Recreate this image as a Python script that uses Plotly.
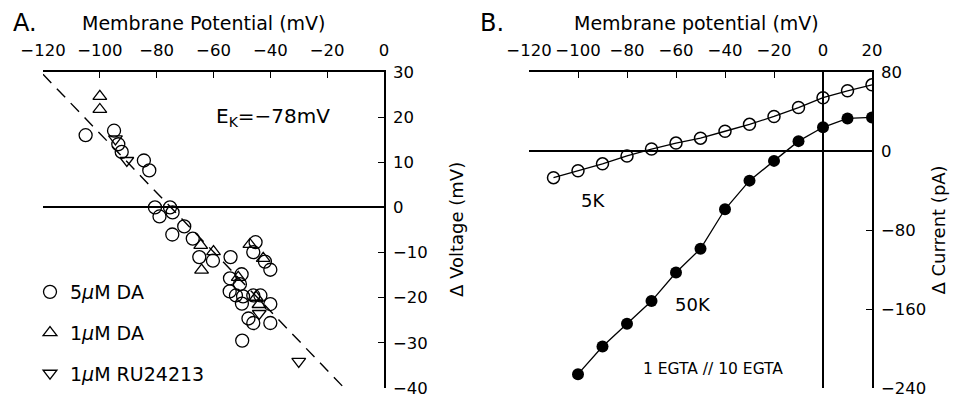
import plotly.graph_objects as go

# ---------------- Panel A data ----------------
da5_x = [-105, -95, -93.5, -92.3, -84.5, -82.6,
         -80.6, -79, -75.3, -74.4, -70.3, -74.5, -67.3, -65, -60.2, -54,
         -45.2, -46, -41.9, -40,
         -54.2, -50.1, -50.7, -54.3, -52.1, -49.6, -50, -46, -43.5, -40,
         -47.7, -46, -40, -49.9]
da5_y = [16, 17, 14, 12.3, 10.4, 8.2,
         0, -2, 0, -1.1, -4.2, -6.0, -6.9, -11, -11.8, -11,
         -7.7, -9.9, -12, -13.8,
         -15.7, -14.8, -17, -18.6, -19.5, -19.7, -21.3, -19.5, -19.5, -21.4,
         -24.6, -25.6, -25.6, -29.5]
da1_x = [-100, -100, -64.5, -64.2, -60, -47.2, -42.5, -51.3, -45, -44]
da1_y = [24.6, 21.7, -8.4, -13.9, -9.8, -8.2, -11.3, -15.5, -19.9, -21.5]
ru_x = [-94.5, -90.5, -43.9, -30]
ru_y = [15.2, 10.4, -23.5, -34.1]
fit_x = [-120, -14]
fit_y = [29.5, -40]
a_xticks = [-120, -100, -80, -60, -40, -20, 0]
a_yticks = [-40, -30, -20, -10, 0, 10, 20, 30]

# ---------------- Panel B data ----------------
k5_v = [-110, -100, -90, -80, -70, -60, -50, -40, -30, -20, -10, 0, 10, 20]
k5_i = [-27, -20, -13, -5, 2, 8, 13, 20, 27, 35, 44, 54, 61, 67]
k50_v = [-100, -90, -80, -70, -60, -50, -40, -30, -20, -10, 0, 10, 20]
k50_i = [-226, -198, -175, -152, -123, -99, -59, -30, -10, 10, 24, 33, 34]
b_xticks = [-120, -100, -80, -60, -40, -20, 0, 20]
b_yticks = [-240, -160, -80, 0, 80]

FONT = "DejaVu Sans"
OFF = 8                      # page body margin
W, H = 966 - OFF, 398 - OFF  # figure size so that it fits the window exactly


def px(v):
    """window x pixel -> paper fraction"""
    return (v - OFF) / W


def py(v):
    """window y pixel -> paper fraction"""
    return 1 - (v - OFF) / H


fig = go.Figure()
fig.add_trace(go.Scatter(x=fit_x, y=fit_y, mode="lines", xaxis="x", yaxis="y",
                         line=dict(color="black", width=1.4, dash="12px,8px"),
                         showlegend=False, hoverinfo="skip"))
fig.add_trace(go.Scatter(x=da5_x, y=da5_y, mode="markers", xaxis="x", yaxis="y",
                         name="5<i>μ</i>M DA", legendgroup="a",
                         marker=dict(symbol="circle-open", size=13, color="black",
                                     line=dict(width=1.3, color="black"))))
fig.add_trace(go.Scatter(x=da1_x, y=da1_y, mode="markers", xaxis="x", yaxis="y",
                         name="1<i>μ</i>M DA", legendgroup="b",
                         marker=dict(symbol="triangle-up-open", size=12, color="black",
                                     line=dict(width=1.3, color="black"))))
fig.add_trace(go.Scatter(x=ru_x, y=ru_y, mode="markers", xaxis="x", yaxis="y",
                         name="1<i>μ</i>M RU24213", legendgroup="c",
                         marker=dict(symbol="triangle-down-open", size=12, color="black",
                                     line=dict(width=1.3, color="black"))))
fig.add_trace(go.Scatter(x=k5_v, y=k5_i, mode="lines+markers", xaxis="x2", yaxis="y2",
                         showlegend=False,
                         line=dict(color="black", width=1.3),
                         marker=dict(symbol="circle-open", size=12, color="black",
                                     line=dict(width=1.5, color="black"))))
fig.add_trace(go.Scatter(x=k50_v, y=k50_i, mode="lines+markers", xaxis="x2", yaxis="y2",
                         showlegend=False,
                         line=dict(color="black", width=1.3),
                         marker=dict(symbol="circle", size=12, color="black")))

ydom = [py(388), py(72)]
common = dict(showgrid=False, ticks="inside", ticklen=6, tickwidth=1.3, tickcolor="black",
              showline=True, linecolor="black", linewidth=1.5, automargin=False,
              ticklabeloverflow="allow",
              tickfont=dict(family=FONT, size=16.5, color="black"))

fig.update_layout(
    width=W, height=H, margin=dict(l=0, r=0, t=0, b=0, autoexpand=False),
    paper_bgcolor="white", plot_bgcolor="white",
    font=dict(family=FONT, color="black"),
    xaxis=dict(domain=[px(43), px(384)], range=[-120, 0], side="top", anchor="y",
               tickvals=a_xticks, zeroline=False, ticklabelstandoff=8, **common),
    yaxis=dict(domain=ydom, range=[-40, 30], side="right", anchor="x",
               tickvals=a_yticks, zeroline=True, zerolinecolor="black", zerolinewidth=1.5,
               ticklabelstandoff=4, **common),
    xaxis2=dict(domain=[px(529), px(872)], range=[-120, 20], side="top", anchor="y2",
                tickvals=b_xticks, zeroline=True, zerolinecolor="black", zerolinewidth=1.5,
                ticklabelstandoff=8, **common),
    yaxis2=dict(domain=ydom, range=[-240, 80], side="right", anchor="x2",
                tickvals=b_yticks, zeroline=True, zerolinecolor="black", zerolinewidth=1.5,
                ticklabelstandoff=4, **common),
    legend=dict(x=px(30), y=py(273), xanchor="left", yanchor="top",
                bgcolor="rgba(0,0,0,0)", traceorder="grouped", tracegroupgap=13,
                font=dict(family=FONT, size=19, color="black")),
    showlegend=True,
)

ann = [
    dict(text="A.", x=25, y=23, size=24),
    dict(text="Membrane Potential (mV)", x=203, y=23, size=19),
    dict(text="B.", x=492, y=23, size=24),
    dict(text="Membrane potential (mV)", x=696, y=23, size=19),
]
for a in ann:
    fig.add_annotation(text=a["text"], x=px(a["x"]), y=py(a["y"]), xref="paper", yref="paper",
                       showarrow=False, xanchor="center", yanchor="middle",
                       font=dict(family=FONT, size=a["size"], color="black"))
fig.add_annotation(text="Δ Voltage (mV)", x=px(456), y=py(230), xref="paper", yref="paper",
                   textangle=-90, showarrow=False, font=dict(family=FONT, size=18, color="black"))
fig.add_annotation(text="Δ Current (pA)", x=px(950), y=py(230), xref="paper", yref="paper",
                   textangle=-90, showarrow=False, font=dict(family=FONT, size=18, color="black"))
fig.add_annotation(text="E<sub>K</sub>=−78mV", x=-60, y=20, xref="x", yref="y",
                   xanchor="left", showarrow=False, font=dict(family=FONT, size=20, color="black"))
fig.add_annotation(text="5K", x=-94, y=-50, xref="x2", yref="y2",
                   showarrow=False, font=dict(family=FONT, size=18, color="black"))
fig.add_annotation(text="50K", x=-53, y=-155, xref="x2", yref="y2",
                   showarrow=False, font=dict(family=FONT, size=18, color="black"))
fig.add_annotation(text="1 EGTA // 10 EGTA", x=-45, y=-221, xref="x2", yref="y2",
                   showarrow=False, font=dict(family=FONT, size=15.5, color="black"))

fig.write_html("out.html")
